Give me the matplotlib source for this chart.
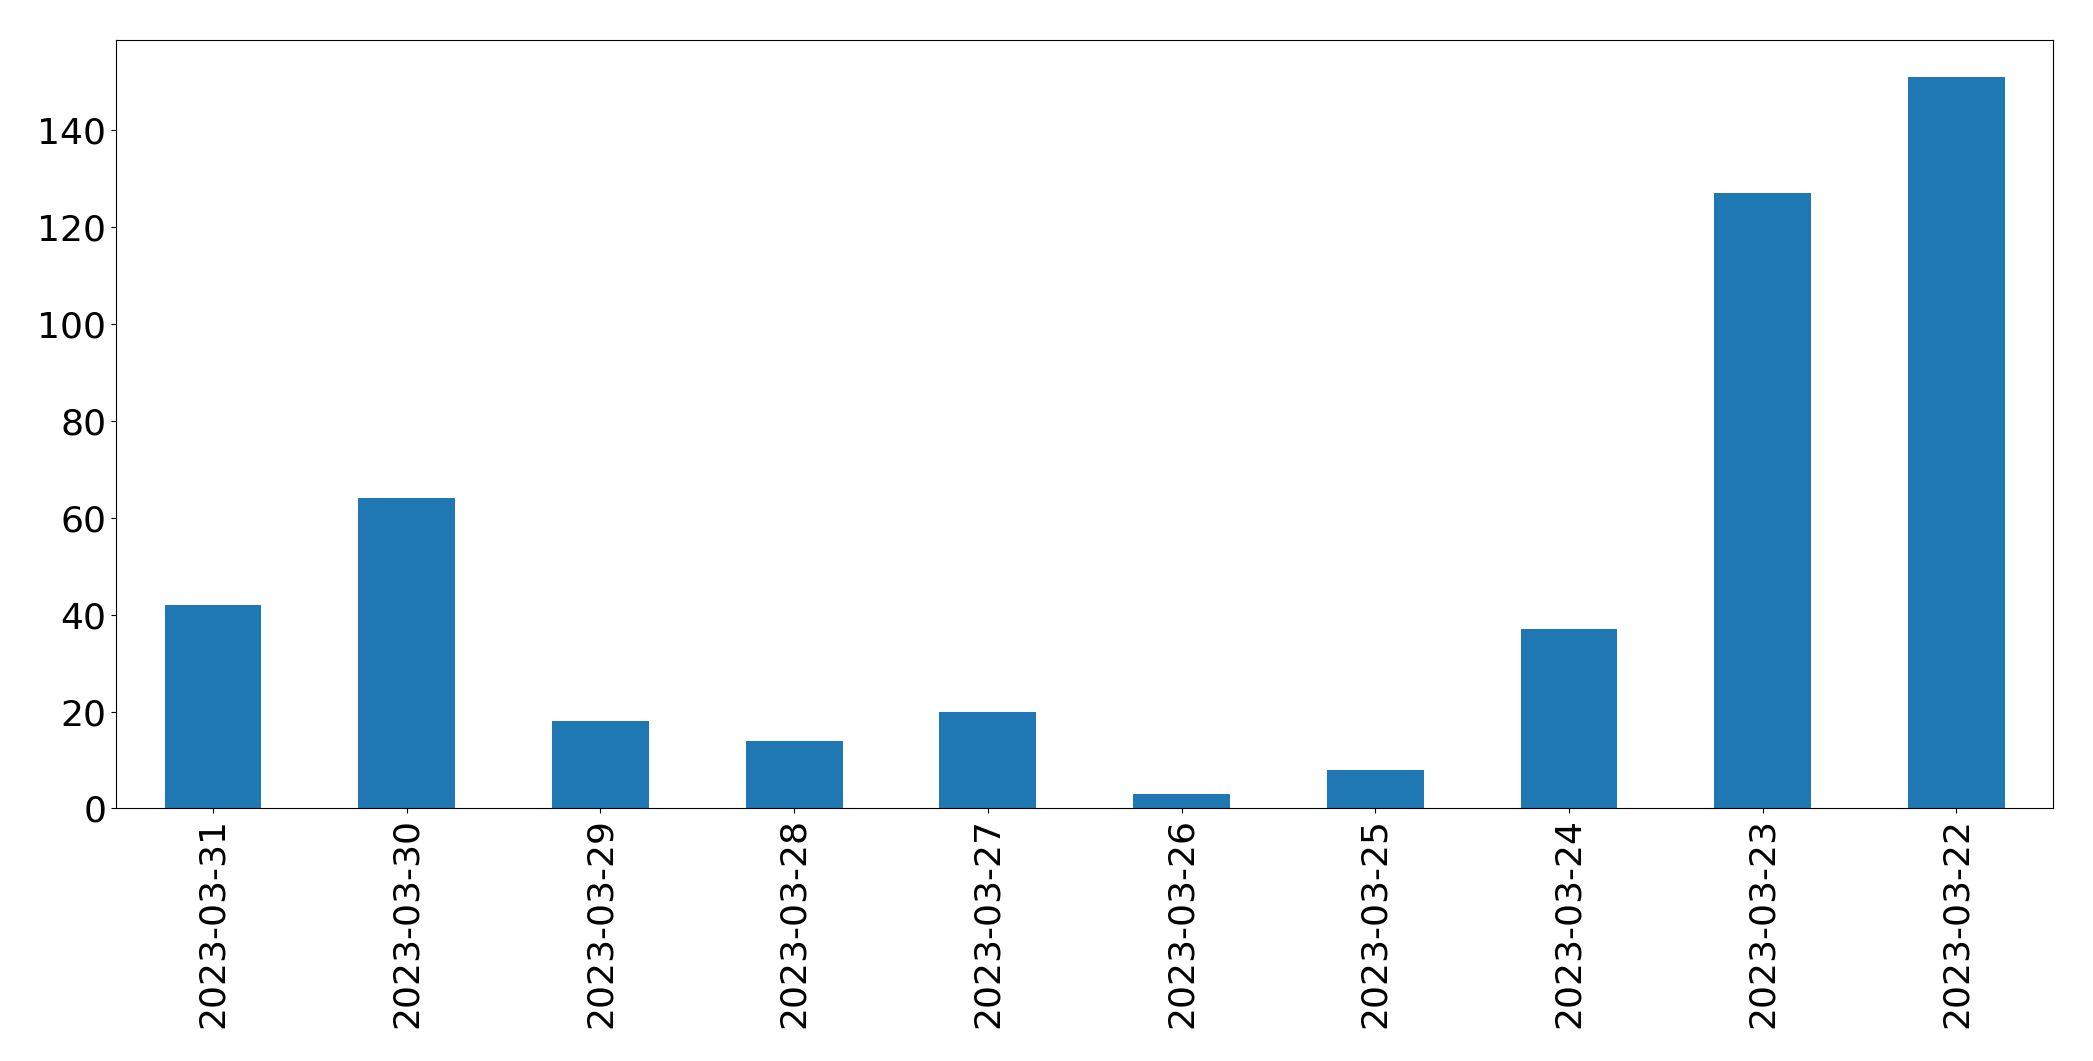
import matplotlib
matplotlib.use("Agg")
import matplotlib.pyplot as plt

dates = ["2023-03-31","2023-03-30","2023-03-29","2023-03-28","2023-03-27",
         "2023-03-26","2023-03-25","2023-03-24","2023-03-23","2023-03-22"]
counts = [42, 64, 18, 14, 20, 3, 8, 37, 127, 151]

fig = plt.figure(figsize=(20.93, 10.61), dpi=100)
ax = fig.add_axes([0.0555, 0.238, 0.9255, 0.724])
x = range(len(dates))
ax.bar(x, counts, width=0.5, color="#1f77b4")
ax.set_xticks(list(x))
ax.set_xticklabels(dates, rotation=90)
ax.set_xlim(-0.5, len(dates) - 0.5)
ax.tick_params(labelsize=26)
fig.savefig("out.png", dpi=100)
